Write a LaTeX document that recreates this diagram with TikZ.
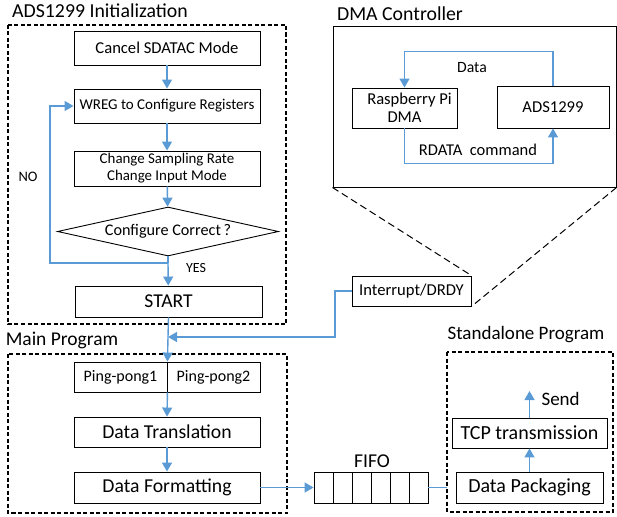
\documentclass[tikz,border=0pt]{standalone}
\usepackage{fontspec}
\setmainfont{Carlito}
\usetikzlibrary{arrows.meta,shapes.geometric}

\definecolor{flowblue}{RGB}{91,155,213}

\newcommand{\fsz}[1]{\fontsize{#1}{#1}\selectfont}

\begin{document}
\begin{tikzpicture}[
    x=1pt, y=-1pt,
    stepbox/.style={draw, line width=0.9pt, minimum width=186pt, minimum height=34pt,
                    inner sep=0pt, font=\fsz{19.7}},
    groupbox/.style={draw, line width=2pt, dash pattern=on 4pt off 2.5pt},
    flow/.style={draw=flowblue, line width=1.4pt, -{Triangle[width=10pt,length=9pt]}},
    wire/.style={draw=flowblue, line width=1.4pt},
    grouptitle/.style={font=\fsz{19.8}}
  ]
  \useasboundingbox (0,0) rectangle (617,516);

  % ADS1299 initialization
  \draw[groupbox] (8,25) rectangle (286,324);
  \node[grouptitle] (inittitle) at (100,11) {ADS1299 Initialization};
  \node[stepbox, font=\fsz{16.6}] (cancel) at (167,48) {Cancel SDATAC Mode};
  \node[stepbox, font=\fsz{15}] (wreg) at (167,106) {WREG to Configure Registers};
  \node[stepbox, minimum height=35pt, align=center, font=\fsz{14.9}] (change) at (167,168.5)
    {Change Sampling Rate\\[2pt]Change Input Mode};
  \node[draw, diamond, aspect=4.5, line width=0.9pt, minimum width=221pt, minimum height=49pt,
        inner sep=0pt, font=\fsz{16.2}] (check) at (168,231.5)
    {Configure Correct\,?};
  \node[stepbox, minimum width=187pt, minimum height=31pt, font=\fsz{19.6}]
    (start) at (168.5,301.5) {START};
  \node[font=\fsz{14.5}] (no) at (28,177) {NO};
  \node[font=\fsz{14}] (yes) at (196,268) {YES};

  \coordinate (yesturn) at (168,263);
  \coordinate (noturn) at (50,263);
  \draw[flow] (cancel) -- (wreg);
  \draw[flow] (wreg) -- (change);
  \draw[flow] (change) -- (check);
  \draw[wire] (check.south) -- (yesturn);
  \draw[flow] (yesturn) -- (start);
  \draw[flow] (yesturn) -- (noturn) |- (wreg.west);

  % DMA controller
  \node[draw, line width=1pt, minimum width=283pt, minimum height=160pt,
        inner sep=0pt] (dma) at (474.5,107) {};
  \node[grouptitle] (dmatitle) at (400,14) {DMA Controller};
  \node[stepbox, minimum width=105pt, minimum height=40pt, align=center, font=\fsz{16.6}]
    (rpi) at (404.5,108) {\hspace*{10pt}Raspberry Pi\\[1pt]DMA};
  \node[stepbox, minimum width=112pt, minimum height=42pt, font=\fsz{16.6}]
    (ads) at (553,107) {ADS1299};
  \node[font=\fsz{15.7}] (data) at (472,68) {Data};
  \node[font=\fsz{16.5}] (rdata) at (478,150) {RDATA\ \ command};
  \draw[flow] (ads.north) -- ++(0,-34) -| (rpi.north);
  \draw[flow] (rpi.south) -- ++(0,35) -| (ads.south);

  \node[stepbox, minimum width=119pt, minimum height=30pt, font=\fsz{16.6}]
    (irq) at (411.5,291) {Interrupt/DRDY};
  \draw[line width=1pt, dash pattern=on 7pt off 4pt] (dma.south west) -- (irq.north east);
  \draw[line width=1pt, dash pattern=on 7pt off 4pt] (dma.south east) -- (irq.south east);

  % main program
  \draw[groupbox] (8,354) rectangle (287,513);
  \node[grouptitle, font=\fsz{19.5}] (maintitle) at (62,340) {Main Program};
  \node[stepbox, minimum width=93pt, minimum height=30pt, font=\fsz{16}]
    (ping1) at (120.5,377) {Ping-pong1};
  \node[stepbox, minimum width=93pt, minimum height=30pt, font=\fsz{16}]
    (ping2) at (213.5,377) {Ping-pong2};
  \node[stepbox, minimum height=30pt] (trans) at (167,432) {Data Translation};
  \node[stepbox, minimum height=31pt] (format) at (167,487.5) {Data Formatting};

  \coordinate (merge) at (168,337);
  \draw[wire] (start.south) -- (merge);
  \draw[flow] (merge) -- (ping1.north east);
  \draw[flow] (irq.west) -- (335,291) |- (merge);
  \draw[flow] (ping1.south east) -- (trans.north);
  \draw[flow] (trans) -- (format);

  % fifo
  \node[draw, line width=0.9pt, minimum width=114pt, minimum height=31pt,
        inner sep=0pt] (fifo) at (371,487.5) {};
  \foreach \k in {1,...,5}
    \draw[line width=0.9pt] (314+19*\k,472) -- (314+19*\k,503);
  \node[font=\fsz{19.6}] (fifotitle) at (372,461) {FIFO};
  \draw[flow] (format) -- (fifo);

  % standalone program
  \draw[groupbox] (447,352) rectangle (613,512);
  \coordinate (alonein) at (447,487.5);
  \node[grouptitle, font=\fsz{19}] (alonetitle) at (526,335) {Standalone Program};
  \node[stepbox, minimum width=147pt, minimum height=31pt, font=\fsz{20}]
    (pack) at (529.5,487.5) {Data Packaging};
  \node[stepbox, minimum width=155pt, minimum height=30pt, font=\fsz{20}]
    (tcp) at (529.5,433) {TCP transmission};
  \node[font=\fsz{19}, anchor=west] (send) at (538,399) {Send};
  \coordinate (sendtip) at (529.5,391);
  \draw[wire] (fifo) -- (alonein);
  \draw[flow] (pack) -- (tcp);
  \draw[flow] (tcp) -- (sendtip);
\end{tikzpicture}
\end{document}
